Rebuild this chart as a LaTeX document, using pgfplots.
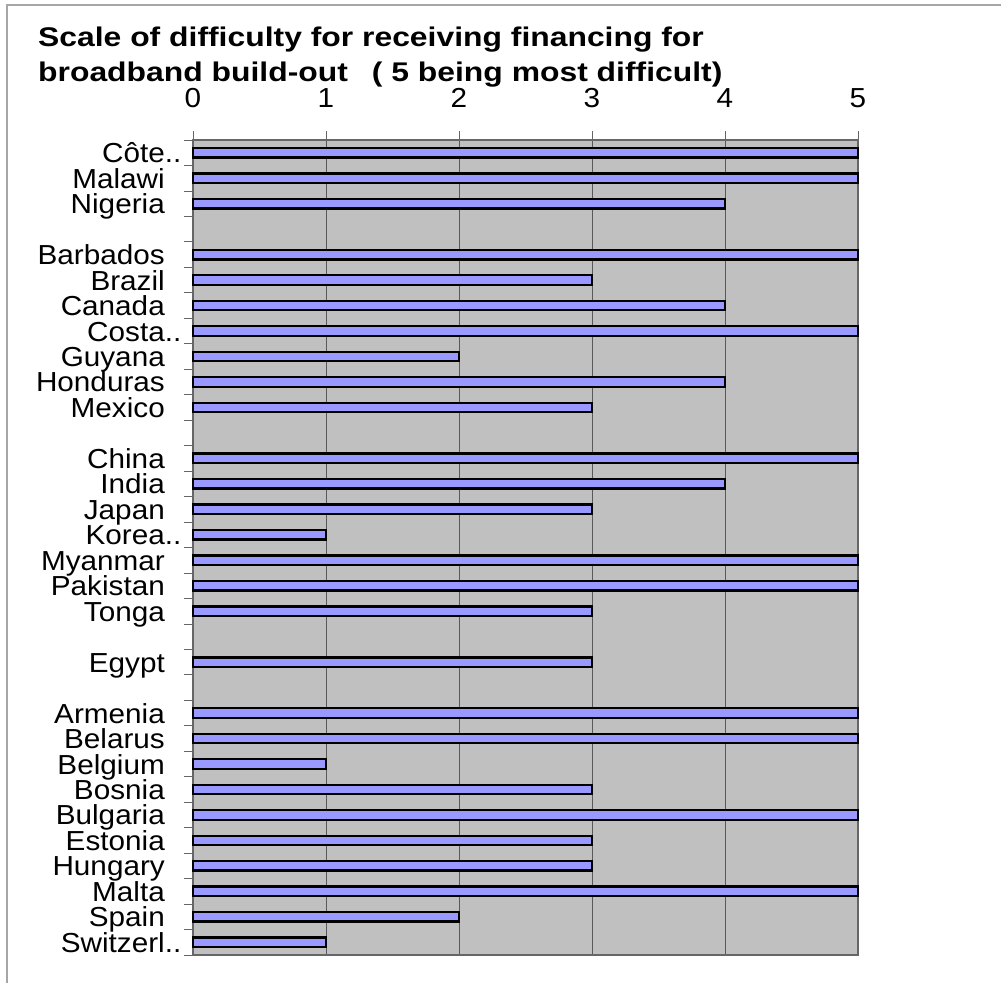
\documentclass[border=0pt]{standalone}
\usepackage{fontspec}
\setmainfont{Liberation Sans}[FakeStretch=1.08]
\newfontfamily\titlefont{Liberation Sans}[FakeStretch=1.18]
\usepackage{pgfplots}
\pgfplotsset{compat=1.18}
\definecolor{barfill}{HTML}{9999FF}
\definecolor{plotbg}{HTML}{C0C0C0}
\begin{document}
\begin{tikzpicture}[x=1pt,y=1pt]
\useasboundingbox (0,0) rectangle (1001,-983);
\draw[line width=1.5pt, black!35] (7,-983) -- (7,-5) -- (1001,-5);
\node[anchor=base west, font=\titlefont\fontsize{27}{30}\bfseries\selectfont, inner sep=0pt] at (38,-46.5) {Scale of difficulty for receiving financing for};
\node[anchor=base west, font=\titlefont\fontsize{27}{30}\bfseries\selectfont, inner sep=0pt] at (38,-81) {broadband build-out\hspace{24pt}( 5 being most difficult)};
\begin{axis}[
  at={(193pt,-955pt)}, anchor=south west,
  scale only axis, width=665pt, height=815pt,
  xbar, bar width=9.5pt, bar shift=0pt,
  xmin=0, xmax=5, ymin=-0.5, ymax=31.5, y dir=reverse,
  axis background/.style={fill=plotbg},
  xtick={0,1,2,3,4,5}, xtick pos=right, xticklabel pos=right,
  ytick={0,...,31}, ytick pos=left,
  minor ytick={-0.5,0.5,...,31.5},
  tick align=outside, major tick length=9pt, minor tick length=9pt,
  every major y tick/.style={draw=none},
  xmajorgrids, grid style={black!65, line width=0.8pt},
  axis line style={black!60, line width=1.2pt},
  tick style={black!60, line width=0.8pt},
  ticklabel style={font=\fontsize{27.5}{30}\selectfont},
  /pgf/number format/assume math mode=true,
  yticklabel style={anchor=base east, inner sep=0pt, xshift=-19pt, yshift=-10pt},
  xticklabel style={anchor=base, inner sep=0pt, yshift=24pt},
  yticklabels={C\^ote\rlap{..},Malawi,Nigeria,{},Barbados,Brazil,Canada,Costa\rlap{..},Guyana,Honduras,Mexico,{},China,India,Japan,Korea\rlap{..},Myanmar,Pakistan,Tonga,{},Egypt,{},Armenia,Belarus,Belgium,Bosnia,Bulgaria,Estonia,Hungary,Malta,Spain,Switzerl\rlap{..}},
  clip=false,
]
\addplot[fill=barfill, draw=black, line width=2.3pt] coordinates {
(5,0) (5,1) (4,2)
(5,4) (3,5) (4,6) (5,7) (2,8) (4,9) (3,10)
(5,12) (4,13) (3,14) (1,15) (5,16) (5,17) (3,18)
(3,20)
(5,22) (5,23) (1,24) (3,25) (5,26) (3,27) (3,28) (5,29) (2,30) (1,31)
};
\end{axis}
\end{tikzpicture}
\end{document}
